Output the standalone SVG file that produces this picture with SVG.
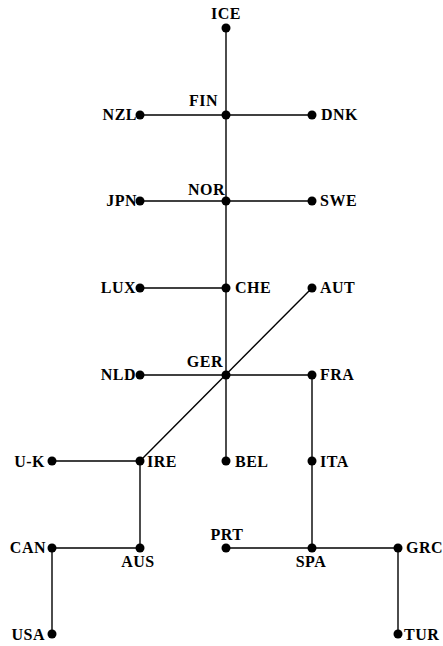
<svg xmlns="http://www.w3.org/2000/svg" width="443" height="646" viewBox="0 0 443 646">
<style>
.e{stroke:#000;stroke-width:1.4;fill:none}
.d{fill:#000}
text{font-family:"Liberation Serif","DejaVu Serif",serif;font-size:16px;font-weight:bold;letter-spacing:0.5px;fill:#000}
.m{text-anchor:middle}.r{text-anchor:end}
</style>
<rect width="443" height="646" fill="#fff"/>
<g id="connectors">
<line class="e" x1="226" y1="28" x2="226" y2="375"/>
<line class="e" x1="140" y1="115" x2="312" y2="115"/>
<line class="e" x1="140" y1="201" x2="312" y2="201"/>
<line class="e" x1="140" y1="288" x2="226" y2="288"/>
<line class="e" x1="140" y1="375" x2="312" y2="375"/>
<line class="e" x1="226" y1="375" x2="226" y2="461"/>
<line class="e" x1="312" y1="288" x2="140" y2="461"/>
<line class="e" x1="312" y1="375" x2="312" y2="548"/>
<line class="e" x1="226" y1="548" x2="398" y2="548"/>
<line class="e" x1="398" y1="548" x2="398" y2="634"/>
<line class="e" x1="52" y1="461" x2="140" y2="461"/>
<line class="e" x1="140" y1="461" x2="140" y2="548"/>
<line class="e" x1="52" y1="548" x2="140" y2="548"/>
<line class="e" x1="52" y1="548" x2="52" y2="634"/>
</g>
<g id="ICE"><circle class="d" cx="226" cy="28" r="4.5"/><text class="m" x="226" y="19">ICE</text></g>
<g id="FIN"><circle class="d" cx="226" cy="115" r="4.5"/><text class="r" x="218" y="106">FIN</text></g>
<g id="NZL"><circle class="d" cx="140" cy="115" r="4.5"/><text class="r" x="137" y="120">NZL</text></g>
<g id="DNK"><circle class="d" cx="312" cy="115" r="4.5"/><text x="321" y="120">DNK</text></g>
<g id="NOR"><circle class="d" cx="226" cy="201" r="4.5"/><text class="r" x="225" y="195">NOR</text></g>
<g id="JPN"><circle class="d" cx="140" cy="201" r="4.5"/><text class="r" x="137" y="206">JPN</text></g>
<g id="SWE"><circle class="d" cx="312" cy="201" r="4.5"/><text x="320" y="206">SWE</text></g>
<g id="CHE"><circle class="d" cx="226" cy="288" r="4.5"/><text x="235" y="293">CHE</text></g>
<g id="LUX"><circle class="d" cx="140" cy="288" r="4.5"/><text class="r" x="136" y="293">LUX</text></g>
<g id="AUT"><circle class="d" cx="312" cy="288" r="4.5"/><text x="320" y="293">AUT</text></g>
<g id="GER"><circle class="d" cx="226" cy="375" r="4.5"/><text class="r" x="223" y="367">GER</text></g>
<g id="NLD"><circle class="d" cx="140" cy="375" r="4.5"/><text class="r" x="136" y="380">NLD</text></g>
<g id="FRA"><circle class="d" cx="312" cy="375" r="4.5"/><text x="320" y="380">FRA</text></g>
<g id="IRE"><circle class="d" cx="140" cy="461" r="4.5"/><text x="147" y="467">IRE</text></g>
<g id="U-K"><circle class="d" cx="52" cy="461" r="4.5"/><text class="r" x="45" y="467">U-K</text></g>
<g id="BEL"><circle class="d" cx="226" cy="461" r="4.5"/><text x="235" y="467">BEL</text></g>
<g id="ITA"><circle class="d" cx="312" cy="461" r="4.5"/><text x="320" y="467">ITA</text></g>
<g id="CAN"><circle class="d" cx="52" cy="548" r="4.5"/><text class="r" x="46" y="553">CAN</text></g>
<g id="AUS"><circle class="d" cx="140" cy="548" r="4.5"/><text class="m" x="138" y="567">AUS</text></g>
<g id="PRT"><circle class="d" cx="226" cy="548" r="4.5"/><text class="m" x="227" y="540">PRT</text></g>
<g id="SPA"><circle class="d" cx="312" cy="548" r="4.5"/><text class="m" x="311" y="567">SPA</text></g>
<g id="GRC"><circle class="d" cx="398" cy="548" r="4.5"/><text x="406" y="553">GRC</text></g>
<g id="USA"><circle class="d" cx="52" cy="634" r="4.5"/><text class="r" x="45" y="640">USA</text></g>
<g id="TUR"><circle class="d" cx="398" cy="634" r="4.5"/><text x="404" y="640">TUR</text></g>
</svg>
